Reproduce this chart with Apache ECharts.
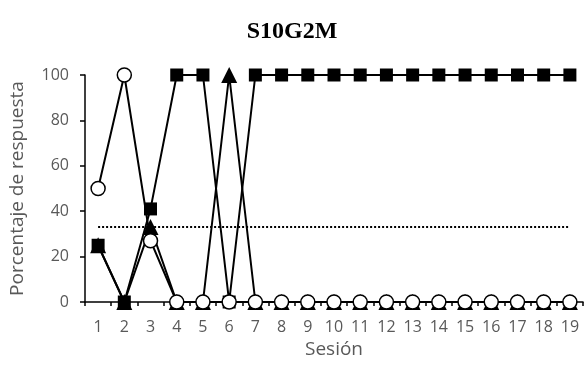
<!DOCTYPE html>
<html>
<head>
<meta charset="utf-8">
<script src="https://cdn.jsdelivr.net/npm/echarts@6/dist/echarts.min.js"></script>
<style>html,body{margin:0;padding:0;background:#fff;}#c{width:584px;height:372px;}</style>
</head>
<body>
<div id="c"></div>
<script>
var sessions = ['1','2','3','4','5','6','7','8','9','10','11','12','13','14','15','16','17','18','19'];
var squares  = [25, 0, 41, 100, 100, 0, 100, 100, 100, 100, 100, 100, 100, 100, 100, 100, 100, 100, 100];
var circles  = [50, 100, 27, 0, 0, 0, 0, 0, 0, 0, 0, 0, 0, 0, 0, 0, 0, 0, 0];
var triangles = [25, 0, 33, 0, 0, 100, 0, 0, 0, 0, 0, 0, 0, 0, 0, 0, 0, 0, 0];
var criterion = 33;
var yTicks = [0, 20, 40, 60, 80, 100];

var chart = echarts.init(document.getElementById('c'), null, {renderer: 'canvas'});
function s(name, data, symbol, size, fill, z) {
  return {
    name: name, type: 'line', data: data, symbol: symbol, symbolSize: size,
    showAllSymbol: true, z: z,
    lineStyle: {color: '#000', width: 2},
    itemStyle: {color: fill, borderColor: '#000', borderWidth: fill === '#fff' ? 1.5 : 0, opacity: 1},
    emphasis: {disabled: true}, animation: false
  };
}
var tri = s('tri', triangles, 'triangle', 16, '#000', 2);
var sq = s('sq', squares, 'rect', 13, '#000', 3);
var ci = s('ci', circles, 'circle', 14, '#fff', 4);
sq.markLine = {
  silent: true, symbol: 'none', label: {show: false}, animation: false,
  lineStyle: {color: '#000', type: [2, 2], width: 2},
  data: [[{coord: [sessions[0], criterion]}, {coord: [sessions[sessions.length - 1], criterion]}]]
};
chart.setOption({
  animation: false,
  title: {
    text: 'S10G2M', left: 'center', top: 15,
    textStyle: {fontFamily: 'Liberation Serif', fontWeight: 'bold', fontSize: 24, color: '#000'}
  },
  grid: {left: 84, right: 1, top: 75, bottom: 70, containLabel: false},
  xAxis: {
    type: 'category', data: sessions, boundaryGap: true,
    name: 'Sesión', nameLocation: 'middle', nameGap: 38,
    nameTextStyle: {fontFamily: 'Open Sans', fontSize: 19, color: '#595959'},
    axisLine: {lineStyle: {color: '#000', width: 1.5}},
    axisTick: {show: true, length: 4, lineStyle: {color: '#000', width: 1.5}, alignWithLabel: false},
    axisLabel: {fontFamily: 'Open Sans', fontSize: 16, color: '#595959', margin: 17}
  },
  yAxis: {
    type: 'value', min: yTicks[0], max: yTicks[yTicks.length - 1], interval: 20,
    name: 'Porcentaje de respuesta', nameLocation: 'middle', nameGap: 58,
    nameTextStyle: {fontFamily: 'Open Sans', fontSize: 19, color: '#595959'},
    axisLine: {show: true, lineStyle: {color: '#000', width: 1.5}},
    axisTick: {show: true, length: 5, lineStyle: {color: '#000', width: 1.5}},
    splitLine: {show: false},
    axisLabel: {fontFamily: 'Open Sans', fontSize: 16, color: '#595959', margin: 16}
  },
  series: [tri, sq, ci]
});
</script>
</body>
</html>
